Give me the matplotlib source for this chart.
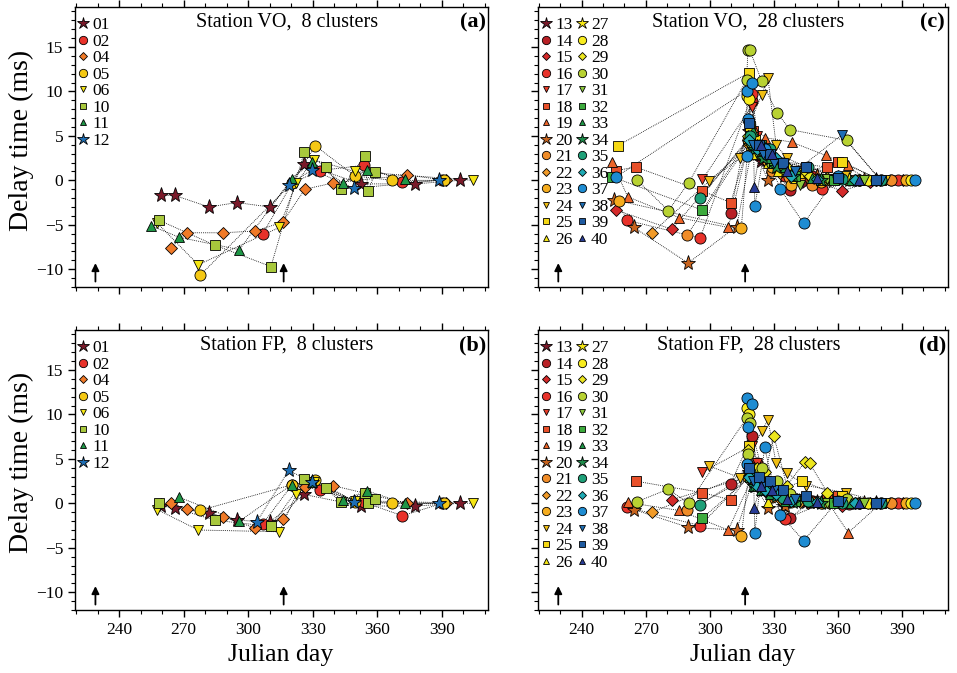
import numpy as np
import matplotlib
matplotlib.use("Agg")
import matplotlib.pyplot as plt
from matplotlib.ticker import MultipleLocator
from matplotlib.lines import Line2D

plt.rcParams["font.family"] = ["Liberation Serif", "DejaVu Serif"]

# --- data: 8 clusters (days shared by both stations) ---
ids_8 = ["01", "02", "04", "05", "06", "10", "11", "12"]
days_8 = {
    "01": [259.4, 265.9, 281.8, 294.7, 310.2, 326.0, 352.5, 377.7, 398.4],
    "02": [306.8, 320.5, 333.3, 354.0, 371.7, 390.2],
    "04": [264.0, 271.4, 288.2, 303.4, 316.0, 326.4, 339.4, 373.8, 392.2],
    "05": [277.6, 320.5, 331.2, 349.5, 367.1, 391.0],
    "06": [257.7, 276.8, 314.5, 322.3, 330.4, 349.5, 404.6],
    "10": [258.6, 284.6, 310.6, 326.1, 336.0, 343.3, 354.1, 355.8, 359.1],
    "11": [254.8, 267.8, 295.9, 320.3, 329.6, 344.3, 355.4, 372.7],
    "12": [304.0, 318.8, 329.8, 349.2, 388.7],
}
vo_8 = {
    "01": [-1.7, -1.7, -3.0, -2.5, -3.0, 1.8, -0.4, -0.4, 0.0],
    "02": [-6.0, -0.3, 1.1, 1.7, -0.15, 0.0],
    "04": [-7.6, -5.9, -5.9, -5.7, -4.7, -1.0, -0.3, 0.6, 0.0],
    "05": [-10.7, -0.3, 3.9, 0.5, 0.0, 0.0],
    "06": [-4.8, -9.5, -5.3, -0.3, 2.3, 1.0, 0.0],
    "10": [-4.5, -7.3, -9.7, 3.2, 1.5, -1.0, 2.7, -1.2, 0.9],
    "11": [-5.1, -6.4, -7.8, 0.15, 2.1, -0.3, 1.2, 0.1],
    "12": [None, -0.5, 1.2, -0.9, 0.0],
}
fp_8 = {
    "01": [-0.3, -0.5, -1.1, -1.9, -2.1, 1.0, -0.3, -0.3, 0.0],
    "02": [-2.3, 2.1, 1.5, 0.1, -1.4, 0.0],
    "04": [0.0, -0.6, -1.5, -2.8, -1.8, 1.8, 2.0, 0.0, 0.0],
    "05": [-0.8, 2.1, 2.6, 0.2, 0.0, 0.0],
    "06": [-0.7, -3.0, -3.2, 1.0, 2.4, 0.3, 0.0],
    "10": [0.0, -1.9, -2.6, 2.7, 1.7, 0.1, 1.2, 0.0, 0.5],
    "11": [None, 0.7, -2.0, 2.1, 2.4, 0.4, 1.4, 0.0],
    "12": [-2.1, 3.7, 2.4, 0.1, 0.0],
}

# --- data: 28 clusters ---
ids_28 = [str(i) for i in range(13, 41)]
days_28 = {
    "13": [318.5, 321, 324, 328, 334.9, 345, 360, 378],
    "14": [309.7, 319.8, 322, 326, 337.6, 348, 365, 385],
    "15": [256.2, 282.1, 318, 322, 327, 334, 346, 361.7, 375, 390.4],
    "16": [261.3, 295.4, 319.8, 323, 328, 335, 352.7, 370, 388],
    "17": [296.5, 319.5, 322, 326, 331, 340, 356, 375],
    "18": [256.2, 265.2, 296.5, 309.7, 320, 324, 330, 355, 360, 375],
    "19": [254.1, 261.5, 285.6, 308.6, 320, 326, 338.3, 354.3, 364.8, 380],
    "20": [254.9, 264.4, 289.8, 312.5, 320, 327.2, 335, 350, 372],
    "21": [289.2, 319, 323, 329, 336.9, 348, 368, 385],
    "22": [272.9, 318.5, 322, 327, 333, 342, 356, 378],
    "23": [257.2, 314.7, 318, 323, 329, 338, 352, 370, 392],
    "24": [299.6, 313.9, 318, 324.2, 327.2, 331, 336.1, 345, 363.8, 382],
    "25": [256.9, 318.2, 318.8, 321, 326, 333, 343.1, 361.7, 380],
    "26": [318, 321, 327.2, 332, 340, 352, 372],
    "27": [319, 323, 328, 335, 347, 365],
    "28": [317.2, 318.2, 320, 324, 330, 340, 355, 374, 394],
    "29": [318, 322, 326, 329.9, 336, 344.3, 346.7, 355, 370],
    "30": [266, 280.5, 290, 317.2, 317.8, 318.6, 324.2, 331.4, 337.6, 364, 380],
    "31": [318.5, 322, 327, 334, 342, 355, 372],
    "32": [254.1, 296.5, 319, 324, 330, 340, 358],
    "33": [320, 324, 328, 335, 348, 366],
    "34": [320.5, 325, 331, 339, 352],
    "35": [295.4, 319, 323.5, 328, 334, 346, 362, 380],
    "36": [318.5, 322, 326, 331, 338, 350, 368],
    "37": [256.2, 317.2, 317.5, 317.8, 319.8, 321, 325.6, 333, 343.9, 360, 378, 396],
    "38": [320, 325, 330, 340, 361.7, 380],
    "39": [318.5, 323, 328, 334, 345, 360, 378],
    "40": [320.6, 324, 329, 336, 350, 370],
}
vo_28 = {
    "13": [5.5, 3.0, 2.2, 1.5, 0.5, -0.2, 0.3, 0.0],
    "14": [-3.7, 8.9, 4.0, 2.5, -1.1, 0.5, 0.0, 0.0],
    "15": [-3.35, -5.5, 4.5, 3.0, 2.0, 0.8, 0.3, -1.2, -0.2, 0.0],
    "16": [-4.5, -6.5, 9.7, 3.5, 2.0, 0.5, -1.0, 0.0, 0.0],
    "17": [0.1, 8.3, 5.0, 3.0, 2.0, 1.0, 0.2, 0.0],
    "18": [1.1, 1.5, -1.2, -2.5, 5.5, 3.5, 2.2, 1.5, 2.1, 0.0],
    "19": [2.1, -1.85, -4.2, -5.3, 6.0, 4.8, 4.3, 2.8, 1.7, 0.0],
    "20": [-2.2, -5.3, -9.3, -5.2, 4.0, 0.0, 1.5, 0.5, 0.0],
    "21": [-6.2, 4.5, 3.0, 1.0, 0.4, -0.5, 0.0, 0.0],
    "22": [-5.9, 4.0, 3.0, 2.0, 0.8, 0.3, 0.0, 0.0],
    "23": [-2.3, -5.4, 4.5, 3.0, 1.5, -0.5, -0.2, 0.0, 0.0],
    "24": [-0.1, 2.5, 6.0, 9.6, 11.5, 4.0, 2.5, 1.5, 0.5, 0.0],
    "25": [3.9, 12.1, 6.1, 4.5, 3.0, 1.5, 0.8, 2.1, 0.0],
    "26": [5.0, 3.0, 2.0, 1.0, 0.3, 0.0, 0.0],
    "27": [4.0, 3.5, 2.5, 1.0, 0.3, 0.0],
    "28": [9.5, 9.2, 4.0, 3.0, 2.0, 0.8, 0.2, 0.0, 0.0],
    "29": [5.0, 4.0, 3.5, 2.5, 1.5, 1.0, 0.5, 0.3, 0.0],
    "30": [0.0, -3.4, -0.3, 11.3, 14.7, 14.7, 11.2, 7.6, 5.7, 4.5, 0.0],
    "31": [4.0, 3.0, 2.0, 1.0, -0.5, 0.2, 0.0],
    "32": [0.4, -3.35, 5.0, 4.0, 2.0, 0.5, 0.0],
    "33": [5.5, 4.0, 2.5, 1.5, 0.3, 0.0],
    "34": [3.5, 2.5, 1.5, 0.5, 0.0],
    "35": [-2.0, 5.0, 4.0, 3.5, 2.0, 1.5, 0.2, 0.0],
    "36": [4.5, 3.5, 3.0, 2.5, 0.5, 0.2, 0.0],
    "37": [0.4, 10.1, 2.7, 6.9, 10.9, -2.9, 3.5, -1.0, -4.85, 0.5, 0.0, 0.0],
    "38": [4.0, 3.0, 2.0, 1.0, 5.1, 0.0],
    "39": [6.5, 4.0, 3.0, 2.0, 1.5, 0.3, 0.0],
    "40": [-0.7, 4.0, 3.0, 1.0, 0.3, 0.0],
}
fp_28 = {
    "13": [3.5, 2.0, 1.5, 0.8, -0.3, 0.1, 0.0, 0.0],
    "14": [2.2, 7.6, 4.5, 2.0, -1.6, 0.3, -0.1, 0.0],
    "15": [None, 0.4, 3.0, 2.0, 1.0, 0.5, 0.0, -0.3, 0.0, 0.0],
    "16": [-0.45, -2.5, 3.5, 2.5, 1.2, -1.8, 0.0, 0.0, 0.0],
    "17": [3.5, 6.5, 4.5, 2.5, 1.5, 0.5, 0.0, 0.0],
    "18": [None, 2.5, 1.2, 0.4, 3.8, 2.5, 1.5, 0.6, 0.8, 0.0],
    "19": [None, 0.1, -0.8, -3.0, 3.0, 2.0, 1.0, 0.5, -3.3, 0.0],
    "20": [None, -0.7, -2.7, -3.0, 2.5, -0.5, -0.3, 0.2, 0.0],
    "21": [-0.8, 3.0, 2.0, 0.7, 0.5, 0.2, 0.0, 0.0],
    "22": [-1.0, 3.5, 2.5, 1.5, 0.5, 0.2, 0.0, 0.0],
    "23": [None, -3.7, 3.0, 2.0, 1.0, 0.2, 0.0, 0.0, 0.0],
    "24": [4.2, 2.9, 5.0, 8.1, 9.4, 4.5, 3.4, 2.0, 1.2, 0.0],
    "25": [None, 6.5, 4.0, 3.5, 2.5, 1.5, 2.5, 0.8, 0.0],
    "26": [3.5, 4.0, 0.2, 1.0, 0.3, 0.1, 0.0],
    "27": [3.0, 2.5, 1.5, 0.5, 0.2, 0.0],
    "28": [10.75, 10.0, 4.0, 2.5, 1.5, 0.5, 0.1, 0.0, 0.0],
    "29": [6.0, 4.0, 3.5, 7.6, 2.0, 4.6, 4.5, 1.2, 0.0],
    "30": [0.2, 1.6, 0.0, 9.6, 5.5, 9.0, 4.0, 2.5, 1.0, 0.5, 0.0],
    "31": [3.5, 2.5, 1.5, 0.5, 0.3, 0.0, 0.0],
    "32": [None, -1.65, 3.0, 2.0, 1.0, 0.3, 0.0],
    "33": [2.0, 1.5, 1.0, 0.3, 0.1, 0.0],
    "34": [2.0, 1.5, 0.8, 0.2, 0.0],
    "35": [-0.15, 3.5, 2.5, 1.5, 0.6, 0.3, 0.0, 0.0],
    "36": [3.0, 2.0, 1.5, 1.0, 0.3, 0.1, 0.0],
    "37": [None, 11.9, 4.4, 8.6, 11.2, -3.3, 6.3, -1.3, -4.2, 0.3, 0.0, 0.0],
    "38": [2.5, 2.0, 1.5, 0.5, 0.2, 0.0],
    "39": [4.0, 3.0, 2.5, 1.5, 0.8, 0.3, 0.0],
    "40": [-0.5, 2.0, 1.5, 0.5, 0.2, 0.0],
}
arrow_days = [229.0, 316.5]

# --- styles ---
colors = {
    "01": "#7a1a2a", "02": "#e8322a", "04": "#f07a28", "05": "#f5c814",
    "06": "#f5e614", "10": "#a8c83c", "11": "#1e9646", "12": "#1e6eb4",
    "13": "#7a1a2a", "14": "#b82025", "15": "#d42a2a", "16": "#e8322a",
    "17": "#e83c28", "18": "#e8502a", "19": "#ec6428", "20": "#c8641e",
    "21": "#f08c28", "22": "#f09a28", "23": "#f5ac1e", "24": "#f0be14",
    "25": "#f5d814", "26": "#f5e614", "27": "#f5e614", "28": "#f8ec1e",
    "29": "#ece61e", "30": "#b8d232", "31": "#8cc83c", "32": "#3caa3c",
    "33": "#1e9646", "34": "#1e8c4a", "35": "#1ea078", "36": "#1eaab4",
    "37": "#1e8cd2", "38": "#1e6eb4", "39": "#1e5aa0", "40": "#283c96",
}
shape_cycle = ["*", "o", "D", "o", "v", "s", "^"]
sizes = {"*": 11, "o": 8, "D": 6, "v": 7, "s": 6.5, "^": 7}
markers = {"01": "*", "02": "o", "04": "D", "05": "o", "06": "v",
           "10": "s", "11": "^", "12": "*"}
for i, c in enumerate(ids_28):
    markers[c] = shape_cycle[i % 7]

W, H = 957, 673
fig = plt.figure(figsize=(W / 100, H / 100), dpi=100)


def box(l, r, t, b):
    return [l / W, 1 - b / H, (r - l) / W, (b - t) / H]


panels = [
    (box(75, 488, 7, 287), ids_8, days_8, vo_8, "Station VO,  8 clusters", "(a)", False, True),
    (box(75, 488, 330, 610), ids_8, days_8, fp_8, "Station FP,  8 clusters", "(b)", True, True),
    (box(538, 948, 7, 287), ids_28, days_28, vo_28, "Station VO,  28 clusters", "(c)", False, False),
    (box(538, 948, 330, 610), ids_28, days_28, fp_28, "Station FP,  28 clusters", "(d)", True, False),
]

for pos, ids, days, vals, title, tag, xlab, ylab in panels:
    ax = fig.add_axes(pos)
    handles = []
    for c in ids:
        x = np.array(days[c], dtype=float)
        y = np.array(vals[c], dtype=float)
        ok = ~np.isnan(y)
        x, y = x[ok], y[ok]
        ax.plot(x, y, ls=(0, (1, 1.3)), color="k", lw=0.6, zorder=1)
        m = markers[c]
        ax.plot(x, y, ls="none", marker=m, ms=sizes[m], mfc=colors[c],
                mec="k", mew=0.6, zorder=2)
        handles.append(Line2D([], [], ls="none", marker=m, ms=sizes[m] - 2,
                              mfc=colors[c], mec="k", mew=0.6, label=c))
    ncol = 1 if len(ids) <= 8 else 2
    leg = ax.legend(handles=handles, loc="upper left", ncol=ncol, frameon=False,
                    bbox_to_anchor=(0.0, 0.973), fontsize=12.5,
                    labelspacing=0.02, handlelength=0.6, handletextpad=0.25,
                    columnspacing=0.2, borderaxespad=0.0, borderpad=0.15)
    leg.set_zorder(5)
    for d in arrow_days:
        ax.annotate("", xy=(d, -9.0), xytext=(d, -11.7),
                    arrowprops=dict(arrowstyle="-|>", color="k", lw=1.3,
                                    mutation_scale=11))
    ax.text(0.513, 0.946, title, transform=ax.transAxes, ha="center",
            va="center", fontsize=14.5)
    ax.text(0.963, 0.946, tag, transform=ax.transAxes, ha="center",
            va="center", fontsize=16, fontweight="bold")

    ax.set_xlim(219.5, 411.5)
    ax.set_ylim(-12, 19.5)
    ax.xaxis.set_major_locator(MultipleLocator(30))
    ax.xaxis.set_minor_locator(MultipleLocator(10))
    ax.yaxis.set_major_locator(MultipleLocator(5))
    ax.yaxis.set_minor_locator(MultipleLocator(1))
    ax.set_xticks([240, 270, 300, 330, 360, 390])
    ax.set_yticks([-10, -5, 0, 5, 10, 15])
    ax.tick_params(which="both", direction="out", top=True, right=False,
                   labelsize=12.5)
    ax.tick_params(which="major", length=5, width=1)
    ax.tick_params(which="minor", length=3, width=0.8)
    if not xlab:
        ax.tick_params(labelbottom=False)
    if not ylab:
        ax.tick_params(labelleft=False)
    for s in ax.spines.values():
        s.set_linewidth(1.0)

fig.text(21 / W, 1 - 140 / H, "Delay time (ms)", rotation=90, ha="center",
         va="center", fontsize=20)
fig.text(21 / W, 1 - 462 / H, "Delay time (ms)", rotation=90, ha="center",
         va="center", fontsize=20)
fig.text(281 / W, 1 - 655 / H, "Julian day", ha="center", va="center",
         fontsize=18.5)
fig.text(743 / W, 1 - 655 / H, "Julian day", ha="center", va="center",
         fontsize=18.5)

fig.savefig("out.png", dpi=100)
